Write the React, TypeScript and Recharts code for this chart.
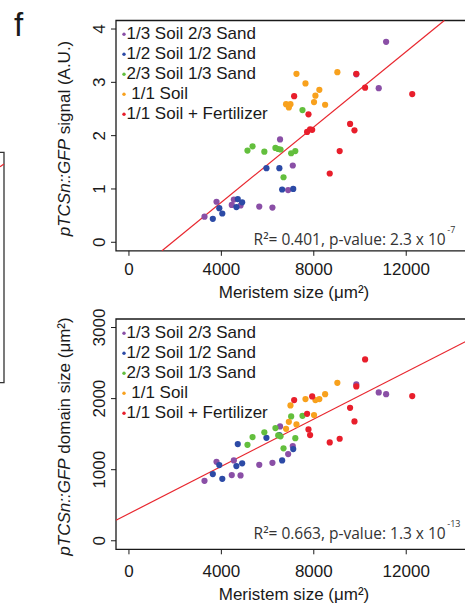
import React from "react";
import { ScatterChart, Scatter, XAxis, YAxis, ReferenceArea, ReferenceLine, Legend } from "recharts";

// soil mixes, in legend order
const groups = ["1/3 Soil 2/3 Sand", "1/2 Soil 1/2 Sand", "2/3 Soil 1/3 Sand", " 1/1 Soil", "1/1 Soil + Fertilizer"];
const groupColors = ["#8a4fa6", "#2c4aa6", "#63bf3d", "#f8a11d", "#e81e2b"];

// meristem size (µm²) of each plant
const meristemSoil13 = [11130, 10810, 6540, 7090, 6890, 3790, 4540, 4450, 4830, 5640, 6210, 3270, 9840];
const meristemSoil12 = [5950, 6510, 6630, 7110, 4710, 4900, 4650, 3910, 4040, 3630];
const meristemSoil23 = [7510, 5130, 5350, 5860, 6340, 6460, 6560, 7020, 7200, 6690];
const meristemSoil11 = [7250, 9020, 7640, 8240, 8070, 8010, 8490, 6800, 6990, 6920];
const meristemFert = [9840, 10220, 12260, 7150, 7770, 9570, 9760, 7710, 7840, 7930, 9120, 8690];

// pTCSn::GFP signal (A.U.)
const signalSoil13 = [3.76, 2.89, 1.93, 1.44, 0.98, 0.76, 0.8, 0.7, 0.69, 0.67, 0.65, 0.48, 3.15];
const signalSoil12 = [1.39, 1.39, 0.99, 1.0, 0.81, 0.75, 0.66, 0.64, 0.54, 0.44];
const signalSoil23 = [2.48, 1.72, 1.8, 1.7, 1.77, 1.75, 1.74, 1.67, 1.71, 1.22];
const signalSoil11 = [3.16, 3.19, 2.98, 2.86, 2.75, 2.63, 2.58, 2.59, 2.59, 2.53];
const signalFert = [3.16, 2.9, 2.78, 2.74, 2.4, 2.22, 2.1, 2.07, 2.12, 2.11, 1.71, 1.29];

// pTCSn::GFP domain size (µm²)
const domainSoil13 = [2063, 2087, 1609, 1332, 1219, 1111, 1131, 924, 920, 1069, 1097, 844, 2200];
const domainSoil12 = [1449, 1487, 1131, 1290, 1360, 1089, 1051, 1065, 872, 938];
const domainSoil23 = [1758, 1350, 1459, 1525, 1585, 1482, 1470, 1750, 1444, 1300];
const domainSoil11 = [1637, 2222, 1993, 1993, 1979, 1768, 2063, 1575, 1904, 1674];
const domainFert = [2172, 2551, 2035, 1979, 1567, 1871, 1679, 1786, 1487, 2031, 1435, 1384];

const xTicks = [0, 4000, 8000, 12000];
const signalTicks = [0, 1, 2, 3, 4];
const domainTicks = [0, 1000, 2000, 3000];

// linear fits drawn on each panel
const signalFit = { intercept: -0.665, slope: 0.0003535 };
const domainFit = { intercept: 382, slope: 0.1662 };

const X_DOMAIN: [number, number] = [-560, 14600];
const INK = "#1a1a1a";

const meristem = [meristemSoil13, meristemSoil12, meristemSoil23, meristemSoil11, meristemFert];

const toPoints = (ys: number[][]) => meristem.map((xs, g) => xs.map((x, i) => ({ x, y: ys[g][i] })));

// clip the fit line to the plot rectangle
function fitSegment(fit: { intercept: number; slope: number }, yDomain: [number, number]) {
  let xa = X_DOMAIN[0];
  let ya = fit.intercept + fit.slope * xa;
  if (ya < yDomain[0]) {
    ya = yDomain[0];
    xa = (ya - fit.intercept) / fit.slope;
  }
  let xb = X_DOMAIN[1];
  let yb = fit.intercept + fit.slope * xb;
  if (yb > yDomain[1]) {
    yb = yDomain[1];
    xb = (yb - fit.intercept) / fit.slope;
  }
  return [
    { x: xa, y: ya },
    { x: xb, y: yb },
  ];
}

const YTick = (props: any) => {
  const { x, y, payload } = props;
  return (
    <text x={x} y={y} transform={`rotate(-90 ${x} ${y})`} textAnchor="middle" fontSize={17} fill={INK}>
      {payload.value}
    </text>
  );
};

const renderLegend = () => (
  <svg width={190} height={110}>
    {groups.map((name, i) => (
      <g key={name}>
        <circle cx={8} cy={14.3 + i * 20} r={1.7} fill={groupColors[i]} />
        <text x={10.5} y={19.3 + i * 20} fontSize={17} fill={INK} style={{ whiteSpace: "pre" }}>
          {name}
        </text>
      </g>
    ))}
  </svg>
);

type PanelProps = {
  top: number;
  height: number;
  margin: { top: number; right: number; bottom: number; left: number };
  ys: number[][];
  yDomain: [number, number];
  yTicks: number[];
  fit: { intercept: number; slope: number };
  yTitle: string;
  titleY: number;
  xTitleY: number;
  xTickMargin: number;
  stat: string;
  exponent: string;
  statY: number;
};

function Panel(p: PanelProps) {
  const series = toPoints(p.ys);
  return (
    <div style={{ position: "absolute", left: 0, top: p.top, width: 470, height: p.height }}>
      <ScatterChart width={470} height={p.height} margin={p.margin}>
        <XAxis
          type="number"
          dataKey="x"
          domain={X_DOMAIN}
          ticks={xTicks}
          allowDataOverflow
          height={30}
          axisLine={false}
          tickSize={5}
          tickMargin={p.xTickMargin}
          tickLine={{ stroke: INK }}
          tick={{ fontSize: 17, fill: INK }}
          label={() => (
            <text x={294} y={p.xTitleY} textAnchor="middle" fontSize={17} fill={INK}>
              Meristem size (μm²)
            </text>
          )}
        />
        <YAxis
          type="number"
          dataKey="y"
          domain={p.yDomain}
          ticks={p.yTicks}
          allowDataOverflow
          width={80}
          axisLine={false}
          tickSize={5}
          tickMargin={6}
          tickLine={{ stroke: INK }}
          tick={YTick}
          label={() => (
            <text x={70} y={p.titleY} transform={`rotate(-90 70 ${p.titleY})`} textAnchor="middle" fontSize={17} fill={INK}>
              <tspan fontStyle="italic">pTCSn::GFP</tspan>
              <tspan>{" " + p.yTitle}</tspan>
            </text>
          )}
        />
        <Legend
          layout="vertical"
          align="center"
          verticalAlign="middle"
          content={renderLegend}
          wrapperStyle={{ left: 116, top: p.margin.top - 0.5, width: 190, height: 110 }}
        />
        {series.map((pts, g) => (
          <Scatter
            key={groups[g]}
            name={groups[g]}
            data={pts}
            fill={groupColors[g]}
            isAnimationActive={false}
            shape={(s: any) => <circle cx={s.cx} cy={s.cy} r={3.1} fill={groupColors[g]} />}
          />
        ))}
        <ReferenceArea
          x1={X_DOMAIN[0]}
          x2={X_DOMAIN[1]}
          y1={p.yDomain[0]}
          y2={p.yDomain[1]}
          fill="none"
          stroke={INK}
          strokeWidth={1.3}
          ifOverflow="visible"
        />
        <ReferenceLine segment={fitSegment(p.fit, p.yDomain)} stroke="#e8262e" strokeWidth={1.2} ifOverflow="visible" />
      </ScatterChart>
      <svg width={465} height={p.height} style={{ position: "absolute", left: 0, top: 0, pointerEvents: "none" }}>
        <text x={253.6} y={p.statY} fontSize={15.5} fill="#333" fontFamily="'Open Sans', sans-serif">
          {p.stat}
          <tspan fontSize={9} dx={1.5} dy={-12.4}>
            {p.exponent}
          </tspan>
        </text>
      </svg>
    </div>
  );
}

export default function App() {
  return (
    <div
      style={{
        position: "absolute",
        left: 0,
        top: 0,
        width: 465,
        height: 605,
        overflow: "hidden",
        background: "#fff",
        fontFamily: "'Liberation Sans', Arial, sans-serif",
      }}
    >
      <Panel
        top={0}
        height={305}
        margin={{ top: 20.5, right: 3.7, bottom: 24.2, left: 36 }}
        ys={[signalSoil13, signalSoil12, signalSoil23, signalSoil11, signalFert]}
        yDomain={[-0.16, 4.16]}
        yTicks={signalTicks}
        fit={signalFit}
        yTitle="signal (A.U.)"
        titleY={138.5}
        xTitleY={297.5}
        xTickMargin={7.5}
        stat="R²= 0.401, p-value: 2.3 x 10"
        exponent="-7"
        statY={245}
      />
      <Panel
        top={300}
        height={305}
        margin={{ top: 19, right: 3.7, bottom: 25.7, left: 36 }}
        ys={[domainSoil13, domainSoil12, domainSoil23, domainSoil11, domainFert]}
        yDomain={[-120, 3120]}
        yTicks={domainTicks}
        fit={domainFit}
        yTitle="domain size (μm²)"
        titleY={136.5}
        xTitleY={299.5}
        xTickMargin={10.7}
        stat="R²= 0.663, p-value: 1.3 x 10"
        exponent="-13"
        statY={239.3}
      />
      {/* panel letter and the edge of the neighbouring panel */}
      <svg width={465} height={605} style={{ position: "absolute", left: 0, top: 0, pointerEvents: "none" }}>
        <text x={14} y={36} fontSize={33} fill={INK}>
          f
        </text>
        <path d="M0 152.3 H4 V382.7 H0" fill="none" stroke="#333" strokeWidth={1.3} />
        <path d="M0 166.7 L4 164" stroke="#e8262e" strokeWidth={1.2} />
      </svg>
    </div>
  );
}
